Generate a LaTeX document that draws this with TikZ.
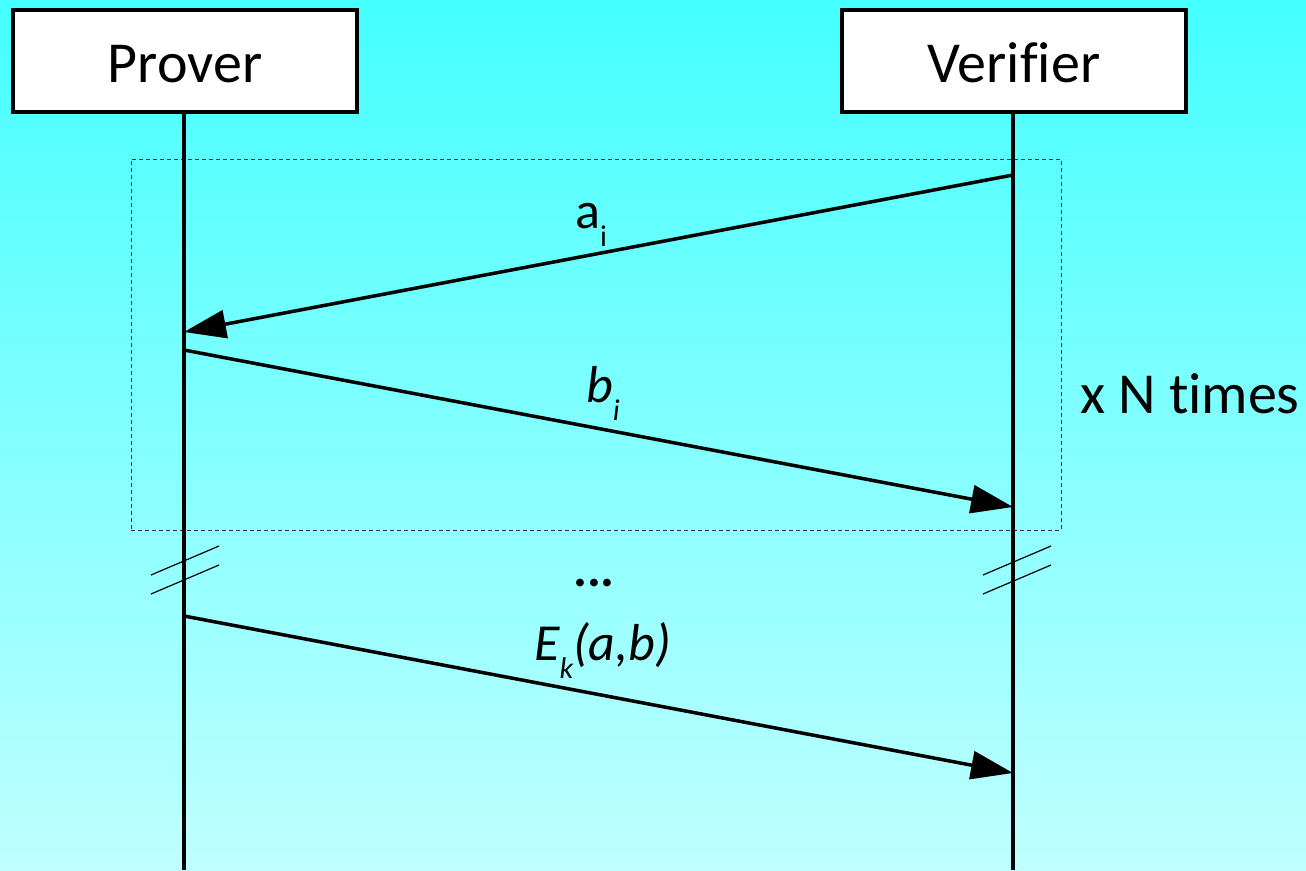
\documentclass[tikz,border=0pt]{standalone}
\usepackage{fontspec}
\setmainfont[Ligatures={NoCommon}]{Carlito}
\usetikzlibrary{arrows.meta}
\definecolor{bgtop}{RGB}{68,255,255}
\definecolor{bgbot}{RGB}{192,255,255}
\newcommand{\lowsub}[1]{\raisebox{-18pt}{\fontsize{30}{32}\selectfont #1}}
\tikzset{
  actor/.style={draw=black, line width=3.5pt, fill=white, minimum width=344pt, minimum height=102pt, inner sep=0pt},
  actortext/.style={font=\fontsize{58}{62}\selectfont, inner sep=0pt},
  life/.style={line width=3.5pt},
  msg/.style={line width=3.5pt, -{Triangle[length=42pt,width=28pt]}},
  lbl/.style={font=\fontsize{52}{56}\selectfont, inner sep=0pt},
  brk/.style={line width=1.2pt},
  loopbox/.style={draw=black!80, line width=1pt, dash pattern=on 4pt off 3pt}
}
\begin{document}
\begin{tikzpicture}[x=1pt,y=-1pt]
\shade[top color=bgtop, bottom color=bgbot] (0,0) rectangle (1306,870);
\useasboundingbox (0,0) rectangle (1306,870);
% loop frame
\node[loopbox, minimum width=930pt, minimum height=371pt, inner sep=0pt] (loop) at (596,344.5) {};
% actors
\node[actor] (prover) at (185,61) {};
\node[actor] (verifier) at (1014,61) {};
\node[actortext, anchor=base] (provert) at (185,82) {Prover};
\node[actortext, anchor=base] (verifiert) at (1014,82) {Verifier};
% lifeline coordinates
\coordinate (pend) at (184,870);
\coordinate (vend) at (1013,870);
\draw[life] (prover.south -| pend) -- (pend);
\draw[life] (verifier.south -| vend) -- (vend);
\coordinate (v1) at (1013,175);
\coordinate (p1) at (184,332);
\coordinate (p2) at (184,350);
\coordinate (v2) at (1013,507);
\coordinate (p3) at (184,616);
\coordinate (v3) at (1013,773);
\draw[msg] (v1) -- (p1);
\draw[msg] (p2) -- (v2);
\draw[msg] (p3) -- (v3);
% break marks
\coordinate (bl1a) at (151,575); \coordinate (bl1b) at (219,546);
\coordinate (bl2a) at (151,594); \coordinate (bl2b) at (219,565);
\coordinate (br1a) at (983,575); \coordinate (br1b) at (1051,546);
\coordinate (br2a) at (983,594); \coordinate (br2b) at (1051,565);
\draw[brk] (bl1a) -- (bl1b);
\draw[brk] (bl2a) -- (bl2b);
\draw[brk] (br1a) -- (br1b);
\draw[brk] (br2a) -- (br2b);
% labels
\node[lbl, anchor=base west] (la) at (575,228) {a\lowsub{i}};
\node[lbl, anchor=base west] (lb) at (586,402) {\itshape b\lowsub{i}};
\node[lbl, anchor=base] (ldots) at (594,586) {\textbf{...}};
\node[lbl, anchor=base west] (le) at (534,660) {\itshape E\lowsub{k}(a,b)};
\node[actortext, anchor=base west] (ln) at (1080,413) {x N times};
\end{tikzpicture}
\end{document}
